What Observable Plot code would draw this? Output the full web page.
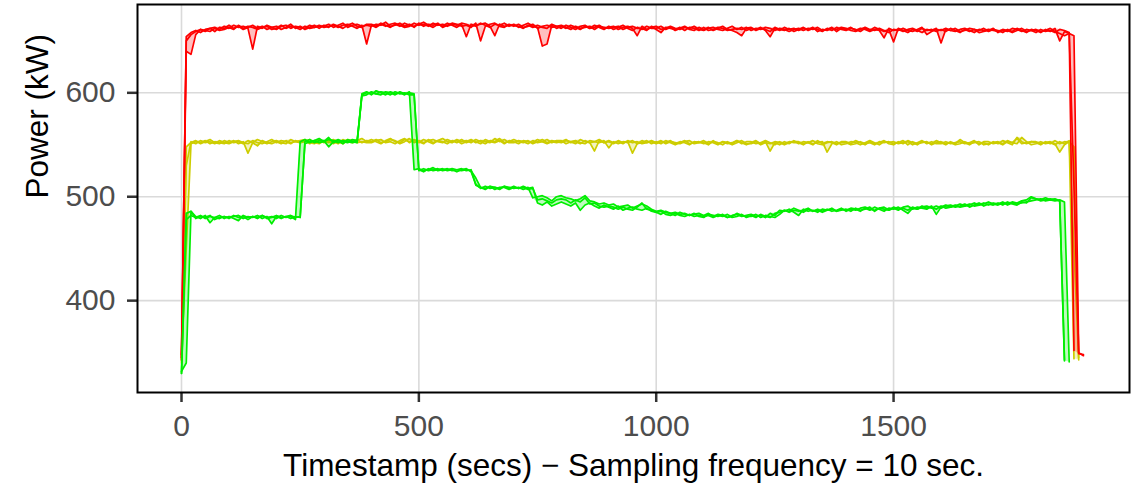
<!DOCTYPE html>
<html><head><meta charset="utf-8">
<script src="https://cdn.jsdelivr.net/npm/d3@7"></script>
<script src="https://cdn.jsdelivr.net/npm/@observablehq/plot@0.6"></script>
<style>body{margin:0;background:#fff;}</style>
</head><body><div id="chart"></div>
<script>
const timestamps = [
0,10,20,30,40,50,60,70,80,90,100,110,120,130,140,150,160,170,180,190,
200,210,220,230,240,250,260,270,280,290,300,310,320,330,340,350,360,370,380,390,
400,410,420,430,440,450,460,470,480,490,500,510,520,530,540,550,560,570,580,590,
600,610,620,630,640,650,660,670,680,690,700,710,720,730,740,750,760,770,780,790,
800,810,820,830,840,850,860,870,880,890,900,910,920,930,940,950,960,970,980,990,
1000,1010,1020,1030,1040,1050,1060,1070,1080,1090,1100,1110,1120,1130,1140,1150,1160,1170,1180,1190,
1200,1210,1220,1230,1240,1250,1260,1270,1280,1290,1300,1310,1320,1330,1340,1350,1360,1370,1380,1390,
1400,1410,1420,1430,1440,1450,1460,1470,1480,1490,1500,1510,1520,1530,1540,1550,1560,1570,1580,1590,
1600,1610,1620,1630,1640,1650,1660,1670,1680,1690,1700,1710,1720,1730,1740,1750,1760,1770,1780,1790,
1800,1810,1820,1830,1840,1850,1860,1870,1880,1890,1900];

const red1 = [
345,654,658,660,658,661,662,659,663,662,
665,662,664,661,663,665,662,664,661,663,
664,661,663,666,662,664,661,663,665,662,
665,663,666,664,662,665,667,664,663,666,
666,664,667,665,663,666,664,667,665,664,
666,668,665,663,666,664,667,665,663,666,
654,666,664,667,665,663,666,665,667,664,
666,663,665,667,664,663,645,647,665,662,
664,662,665,663,661,664,662,665,663,661,
664,661,663,665,662,660,663,661,664,662,
662,664,661,663,660,662,664,661,660,663,
661,663,660,662,664,661,660,658,655,662,
663,660,662,661,659,663,661,660,662,659,
661,663,660,662,661,659,662,660,663,661,
660,662,661,659,662,660,663,661,659,661,
649,662,660,658,661,659,662,660,661,659,
661,659,662,660,658,661,659,661,660,662,
659,661,660,658,661,659,662,660,658,661,
660,658,661,659,662,650,659,657,510,350,347];
const red2 = [
348,650,656,659,661,659,662,663,661,664,
662,665,663,664,662,642,664,662,665,663,
661,664,665,662,664,663,662,665,663,664,
664,666,663,665,667,663,665,666,664,665,
664,666,665,668,664,665,667,664,666,663,
667,664,666,665,667,663,665,667,666,664,
665,663,667,650,664,666,667,664,663,666,
664,666,663,664,666,662,664,665,663,664,
662,665,663,661,664,665,662,663,665,662,
663,664,661,663,664,662,655,664,661,663,
664,661,662,664,662,661,663,662,664,661,
660,662,663,661,660,662,664,661,663,660,
662,661,663,660,654,662,660,663,661,662,
660,662,661,663,659,661,660,662,661,663,
662,660,659,661,663,661,660,662,660,658,
661,660,662,660,659,661,663,656,659,661,
660,662,660,659,661,662,660,658,661,660,
661,660,659,661,660,658,660,662,659,660,
658,661,659,660,658,661,660,658,352,null,null];
const red3 = [
343,640,637,656,661,660,659,662,660,661,
663,661,665,662,664,663,661,663,664,661,
662,665,662,664,663,661,664,662,663,665,
663,664,665,663,665,666,664,662,665,647,
665,663,666,664,666,667,665,663,664,667,
665,666,664,667,665,666,664,666,665,667,
666,664,665,666,667,664,655,666,664,665,
665,664,662,665,663,665,663,662,666,664,
665,663,661,664,662,663,664,661,664,663,
662,663,664,661,663,664,662,662,660,664,
661,658,663,662,661,663,660,663,662,660,
663,660,661,663,662,660,661,662,661,663,
660,662,661,663,662,660,662,661,659,661,
662,660,662,661,663,660,661,663,659,662,
661,663,660,662,661,659,661,660,653,662,
660,661,659,661,662,660,658,661,660,662,
648,661,660,662,659,660,662,661,658,659,
660,662,658,660,659,662,661,659,661,660,
661,659,660,662,659,657,655,657,655,349,348];

const yellow1 = [
342,548,552,554,551,553,555,552,551,554,
552,554,551,553,542,552,555,553,551,553,
554,552,551,555,553,552,554,551,553,555,
552,554,553,551,555,553,552,554,556,553,
555,553,551,554,556,553,552,555,553,554,
552,555,553,551,554,556,553,552,555,553,
554,552,555,553,551,554,553,556,552,553,
555,553,552,554,551,553,555,552,554,553,
552,554,553,551,555,553,552,544,554,552,
553,551,554,552,553,542,551,554,552,553,
551,553,552,554,551,553,552,550,553,552,
554,551,553,552,550,553,551,554,552,550,
552,554,551,553,544,552,550,553,551,554,
551,553,552,550,554,551,553,552,550,553,
553,551,554,552,550,553,551,552,554,551,
550,553,551,554,552,550,553,552,551,554,
552,550,553,551,555,552,550,553,551,552,
550,553,551,554,552,550,557,553,551,553,
552,550,553,551,554,551,553,552,450,343,null];
const yellow2 = [
340,450,551,553,552,554,551,553,552,551,
554,552,553,551,554,552,549,554,552,551,
553,551,554,552,553,554,555,552,551,554,
553,552,555,553,551,554,553,555,552,554,
553,555,552,553,555,554,551,553,556,552,
554,552,554,555,553,552,555,553,554,551,
553,555,552,554,553,552,556,553,555,552,
552,554,553,551,554,552,553,555,552,554,
554,551,553,554,552,551,554,553,552,554,
547,553,551,553,552,554,551,552,554,551,
553,551,554,552,550,552,554,551,552,553,
551,553,552,550,553,551,552,554,551,553,
553,551,552,554,552,550,553,551,553,552,
552,550,553,551,552,553,543,551,553,550,
551,553,552,550,552,554,552,550,553,552,
553,551,552,553,550,552,554,551,553,551,
551,553,551,552,553,551,552,554,550,553,
553,551,552,550,553,552,551,557,553,550,
551,553,551,552,550,553,551,554,344,null,null];
const yellow3 = [
345,530,553,551,554,552,553,551,554,552,
551,553,554,552,551,554,552,551,553,555,
552,554,553,551,554,552,553,555,552,551,
554,553,551,554,552,555,554,552,553,552,
552,554,555,552,553,551,554,556,552,555,
553,551,555,552,554,553,551,554,552,555,
552,554,553,551,555,553,552,554,551,554,
553,551,554,553,552,555,553,551,553,552,
553,555,552,553,551,554,552,553,555,552,
554,552,553,551,554,552,553,551,552,554,
552,554,551,553,552,551,553,554,551,552,
552,550,554,551,553,552,550,552,554,551,
551,553,550,552,551,553,552,550,552,553,
553,551,552,554,551,550,552,553,551,552,
552,550,551,553,551,552,550,553,552,553,
551,552,554,550,553,551,552,553,550,552,
553,551,552,550,551,553,551,552,553,550,
551,552,553,551,554,552,556,551,552,553,
553,551,552,553,551,543,550,553,548,345,null];

const green1 = [
330,484,486,481,479,482,475,480,482,479,
481,479,477,482,480,481,479,482,480,481,
479,482,480,481,478,553,555,552,554,556,
553,557,552,554,551,555,553,552,599,601,
598,602,600,598,601,599,600,598,601,526,
527,525,526,528,525,526,527,525,526,527,
525,526,511,509,507,510,509,508,510,509,
508,509,507,509,499,500,501,499,496,500,
501,499,498,496,498,501,496,495,493,494,
492,493,490,491,492,489,491,493,491,488,
486,487,485,484,485,483,484,482,483,484,
482,484,481,483,482,480,482,483,481,482,
483,481,482,480,484,482,487,486,488,485,
482,488,486,487,485,488,487,489,486,488,
487,489,488,486,489,487,490,488,486,489,
488,490,487,484,489,488,490,491,489,491,
489,491,492,490,491,493,490,492,494,491,
493,492,494,492,495,493,492,495,494,499,
498,497,499,497,498,496,342,null,null,null,null];
const green2 = [
332,340,486,479,481,480,482,478,480,481,
479,482,480,481,478,481,480,482,479,480,
482,480,481,479,481,480,553,555,552,554,
554,548,553,555,553,552,555,554,598,600,
600,599,601,600,598,601,599,600,598,598,
525,527,525,526,527,525,526,527,526,525,
526,525,518,509,508,510,507,509,509,507,
509,508,510,508,509,494,492,495,491,493,
495,493,491,494,487,492,494,491,489,492,
490,488,491,487,489,490,488,487,489,486,
485,483,486,484,482,485,483,482,484,481,
480,483,482,481,483,480,481,484,482,481,
481,483,480,482,481,480,483,487,485,487,
486,487,489,486,487,485,487,488,486,487,
488,486,489,487,488,490,486,489,488,487,
490,488,489,487,490,488,491,489,490,488,
491,489,490,492,490,491,493,491,492,494,
492,494,493,495,492,494,493,494,495,496,
497,498,496,497,496,497,495,341,null,null,null];
const green3 = [
330,478,482,480,482,479,481,480,479,481,
480,481,482,479,481,480,482,479,481,474,
481,479,481,482,480,481,551,553,554,552,
553,555,554,552,554,553,552,553,597,598,
601,599,598,601,600,598,601,599,600,599,
526,524,527,525,526,527,525,526,524,526,
527,524,512,508,510,508,509,507,510,508,
510,508,509,507,508,497,498,496,494,497,
498,497,494,497,495,499,493,494,491,490,
491,490,488,490,488,487,490,494,488,487,
485,486,483,482,484,482,481,483,481,482,
481,482,480,482,481,483,480,481,483,480,
482,480,483,481,480,484,485,487,486,489,
487,485,488,486,488,486,488,486,487,489,
486,488,487,489,490,488,487,489,490,487,
489,487,490,491,488,490,489,488,491,483,
490,492,490,491,493,491,492,494,492,493,
495,493,492,494,493,495,494,496,497,500,
498,496,497,498,497,496,343,null,null,null,null];

const seriesNames = ["yellow", "red", "green"];
const seriesColors = ["#CDCD00", "#FF0000", "#00EE00"];
const seriesRuns = [[yellow1, yellow2, yellow3], [red1, red2, red3], [green1, green2, green3]];

const xTicks = [0, 500, 1000, 1500];
const yTicks = [400, 500, 600];
const xTitle = "Timestamp (secs) \u2212 Sampling frequency = 10 sec.";
const yTitle = "Power (kW)";

const marks = [
  Plot.gridX(xTicks, {stroke: "#dadada", strokeOpacity: 1, strokeWidth: 1.6}),
  Plot.gridY(yTicks, {stroke: "#dadada", strokeOpacity: 1, strokeWidth: 1.6})
];

seriesNames.forEach((name, s) => {
  const runs = seriesRuns[s];
  const color = seriesColors[s];
  const band = timestamps.map((t, i) => {
    const vals = runs.map(r => r[i]).filter(v => v != null);
    return {t, lo: vals.length ? d3.min(vals) : NaN, hi: vals.length ? d3.max(vals) : NaN};
  });
  const lines = [];
  runs.forEach((r, k) => timestamps.forEach((t, i) => lines.push({t, v: r[i] == null ? NaN : r[i], run: name + k})));
  marks.push(Plot.areaY(band, {x: "t", y1: "lo", y2: "hi", fill: color, fillOpacity: 0.25}));
  marks.push(Plot.line(lines, {x: "t", y: "v", z: "run", stroke: color, strokeWidth: 1.7}));
});

marks.push(
  Plot.axisX({ticks: xTicks, tickFormat: d => String(d), tickSize: 10, tickPadding: 12, stroke: "#333333", strokeWidth: 2.5, fill: "#4d4d4d", fontSize: 30, label: null}),
  Plot.axisY({ticks: yTicks, tickFormat: d => String(d), tickSize: 10, tickPadding: 12, stroke: "#333333", strokeWidth: 2.5, fill: "#4d4d4d", fontSize: 30, label: null}),
  Plot.text([yTitle], {text: d => d, frameAnchor: "left", dx: -100, rotate: -90, fontSize: 31.5, fill: "black", lineAnchor: "middle"}),
  Plot.text([xTitle], {text: d => d, frameAnchor: "bottom", dy: 73, fontSize: 31.5, fill: "black", lineAnchor: "middle"}),
  Plot.frame({stroke: "black", strokeWidth: 2})
);

const chart = Plot.plot({
  width: 1139,
  height: 486,
  marginLeft: 137,
  marginRight: 10,
  marginTop: 4,
  marginBottom: 94,
  x: {domain: [-92.7, 1997]},
  y: {domain: [311.6, 685]},
  style: {fontFamily: "'Liberation Sans', Arial, sans-serif", fontSize: "30px", background: "white", overflow: "visible"},
  marks
});
document.getElementById("chart").appendChild(chart);
</script>
</body></html>
